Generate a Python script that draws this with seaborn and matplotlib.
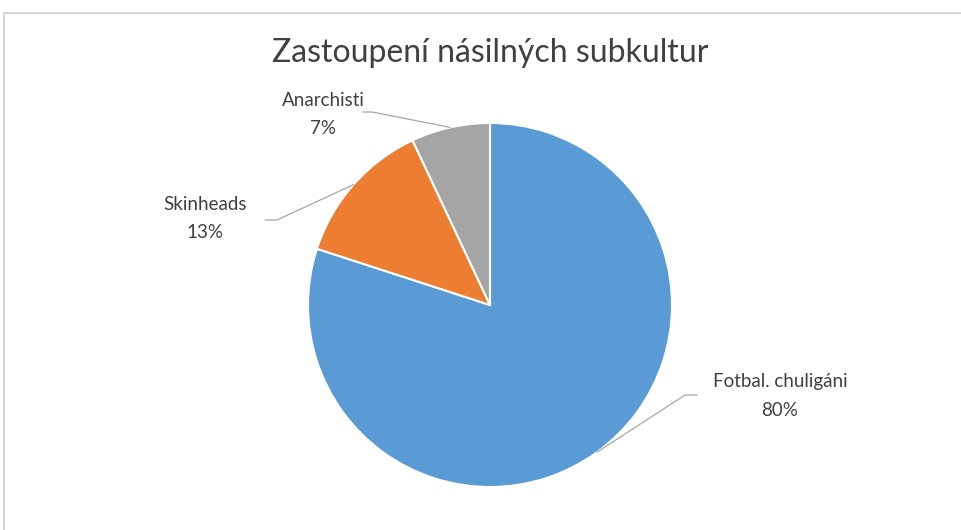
import matplotlib.pyplot as plt
from matplotlib.patches import Rectangle
import seaborn as sns
import numpy as np

# data
categories = ["Fotbal. chuligáni", "Skinheads", "Anarchisti"]
shares = [80, 13, 7]
slice_colors = ["#5B9BD5", "#ED7D31", "#A5A5A5"]
title = "Zastoupení násilných subkultur"

sns.set_theme(style="white")
plt.rcParams["font.family"] = ["Lato", "DejaVu Sans"]

W, H = 961, 530
fig = plt.figure(figsize=(W / 100, H / 100), dpi=100)
ax = fig.add_axes([0, 0, 1, 1])

# pie in pixel-like coordinates (y up)
cx, cy, r = 490, H - 305, 182
wedges, _ = ax.pie(
    shares,
    colors=slice_colors,
    startangle=90,
    counterclock=False,
    center=(cx, cy),
    radius=r,
    wedgeprops=dict(edgecolor="white", linewidth=1.5),
)
ax.set_xlim(0, W)
ax.set_ylim(0, H)
ax.set_aspect("equal")
ax.axis("off")

label_color = "#404040"
line_color = "#A6A6A6"

# label positions (text centre) and leader line knee
label_pos = [(780, H - 396), (205, H - 219), (323, H - 114)]
knees = [[(697, H - 395), (685, H - 395)],
         [(265, H - 220), (277, H - 220)],
         [(363, H - 112), (372, H - 112)]]

total = sum(shares)
start = 90
for cat, val, (tx, ty), kn in zip(categories, shares, label_pos, knees):
    mid = start - val / total * 360 / 2
    start -= val / total * 360
    # leader line ends on the slice edge at its mid angle
    ex = cx + r * np.cos(np.radians(mid))
    ey = cy + r * np.sin(np.radians(mid))
    ax.plot([kn[0][0], kn[1][0], ex], [kn[0][1], kn[1][1], ey],
            color=line_color, lw=0.9)
    ax.text(tx, ty + 14, cat, ha="center", va="center", fontsize=13.5,
            color=label_color)
    ax.text(tx, ty - 14, f"{val}%", ha="center", va="center", fontsize=13.5,
            color=label_color)

fig.text(490 / W, 1 - 53 / H, title, ha="center", va="center",
         fontsize=23, color="#404040")

# chart area border (cropped on right / bottom)
fig.patches.append(Rectangle((4 / W, -0.1), 1.2, 1 - 13 / H + 0.1,
                             transform=fig.transFigure, fill=False,
                             edgecolor="#D0D0D0", linewidth=1.2))

fig.savefig("out.png", dpi=100)
